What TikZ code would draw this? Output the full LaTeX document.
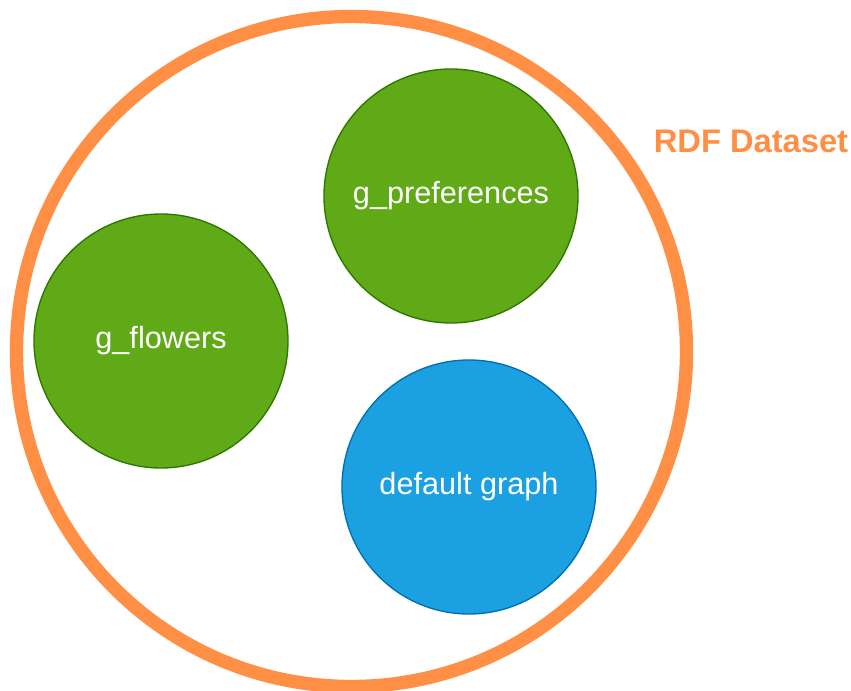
\documentclass[tikz,border=0pt]{standalone}
\usepackage{fontspec}
\setmainfont{Liberation Sans}
\definecolor{dsorange}{HTML}{FF8F45}
\definecolor{gfill}{HTML}{60A917}
\definecolor{gline}{HTML}{2D7600}
\definecolor{dfill}{HTML}{1BA1E2}
\definecolor{dline}{HTML}{006EAF}

\tikzset{
  graphnode/.style={circle, minimum size=254*0.75pt, inner sep=0pt,
    fill=gfill, draw=gline, line width=1pt, text=white, font=\fontsize{23}{27}\selectfont},
  defaultnode/.style={graphnode, fill=dfill, draw=dline}
}

\begin{document}
\begin{tikzpicture}[x=0.75pt, y=-0.75pt]
  \useasboundingbox (0,0) rectangle (851,691);
  % the dataset boundary
  \node[circle, draw=dsorange, line width=10pt, minimum size=670*0.75pt, inner sep=0pt]
    (dataset) at (351.5,351.5) {};
  \node[text=dsorange, font=\fontsize{24.5}{29}\selectfont\bfseries] (dslabel) at (751,141) {RDF Dataset};
  % named graphs and the default graph
  \node[graphnode] (prefs) at (451,196) {g\_preferences};
  \node[graphnode] (flowers) at (161,341) {g\_flowers};
  \node[defaultnode] (default) at (469,487) {default graph};
\end{tikzpicture}
\end{document}
